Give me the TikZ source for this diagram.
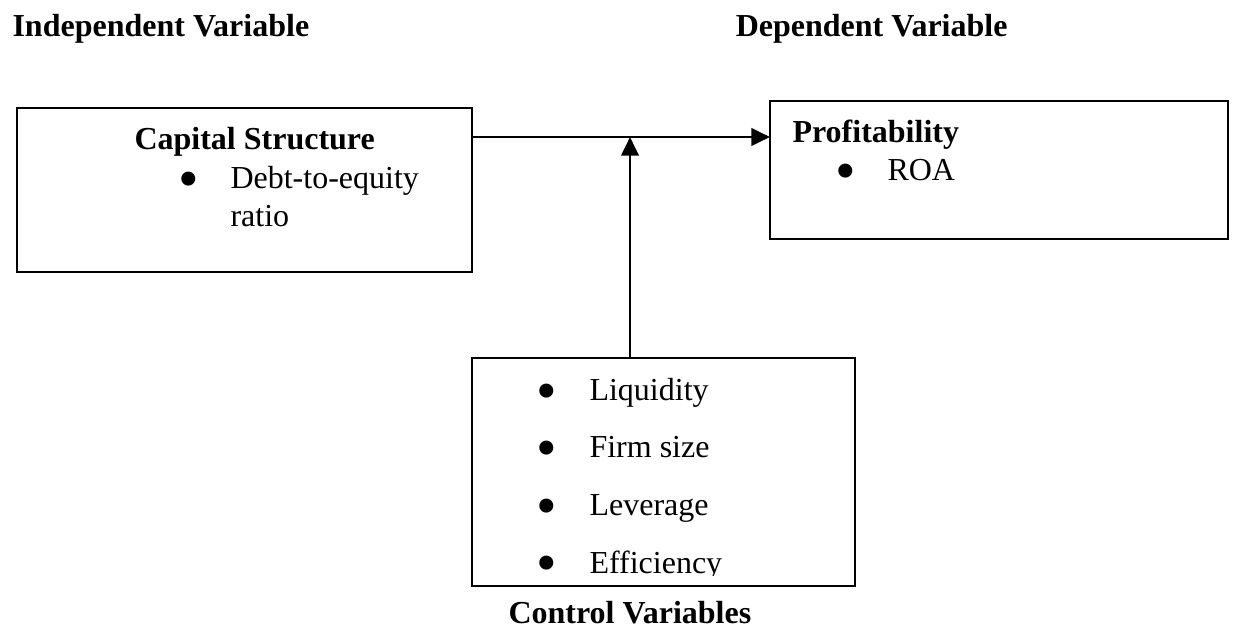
\documentclass[tikz,border=0pt]{standalone}
\usepackage{fontspec}
\setmainfont{Liberation Serif}
\usetikzlibrary{arrows.meta}
\begin{document}
\begin{tikzpicture}[x=0.375pt,y=-0.375pt,
  txt/.style={anchor=base west,inner sep=0pt,font=\fontsize{12pt}{14pt}\selectfont},
  btxt/.style={txt,font=\fontsize{12pt}{14pt}\selectfont\bfseries},
  bul/.style={anchor=center,inner sep=0pt,yshift=-2.5pt,font=\fontsize{22pt}{24pt}\selectfont},
  box/.style={draw=black,line width=0.75pt,inner sep=0pt,outer sep=0pt,rectangle},
  arr/.style={line width=1.1pt,-{Triangle[length=7pt,width=6.5pt]}}]
\useasboundingbox (0,0) rectangle (1234,628);
% titles
\node[btxt] (ti) at (12,36) {Independent Variable};
\node[btxt,anchor=base east] (td) at (1008,36) {Dependent Variable};
% boxes
\node[box,minimum width=170.6pt,minimum height=61.5pt] (cs) at (244.5,190) {};
\node[box,minimum width=171.75pt,minimum height=51.75pt] (prof) at (999,170) {};
\node[box,draw=none,minimum width=143.6pt,minimum height=85.5pt] (ctrl) at (663.5,472) {};
% capital structure text
\node[btxt] (cst) at (134,149) {Capital Structure};
\node[bul] (b1) at (189,179) {•};
\node[txt] (d1) at (230,188) {Debt-to-equity};
\node[txt] (d2) at (230,226) {ratio};
% profitability text
\node[btxt] (pt) at (792,142) {Profitability};
\node[bul] (b2) at (846,171) {•};
\node[txt] (roa) at (887,180) {ROA};
% control text
\node[bul] (b3) at (547,391) {•};
\node[txt] (c1) at (589,400) {Liquidity};
\node[bul] (b4) at (547,448) {•};
\node[txt] (c2) at (589,457) {Firm size};
\node[bul] (b5) at (547,506) {•};
\node[txt] (c3) at (589,515) {Leverage};
\node[bul] (b6) at (547,563) {•};
\node[txt] (c4) at (589,573) {Efficiency};
\fill[white] (ctrl.south west) rectangle ([yshift=3.75pt]ctrl.south east);
\draw[line width=0.75pt] (ctrl.south west) rectangle (ctrl.north east);
\node[btxt] (cv) at (508,623) {Control Variables};
% connectors
\coordinate (j) at (630,137);
\draw[arr] (cs.east |- j) -- (prof.west |- j);
\draw[arr] (j |- ctrl.north) -- (j);
\end{tikzpicture}
\end{document}
